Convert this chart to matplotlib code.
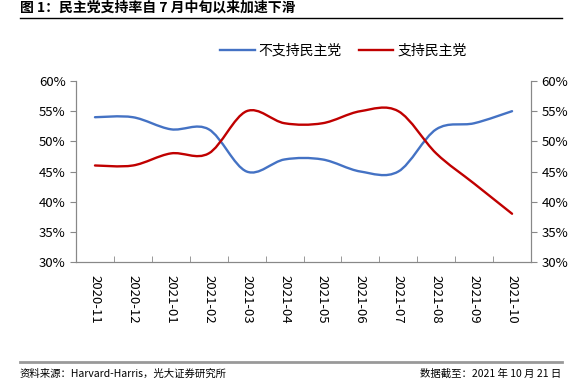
import numpy as np
import matplotlib.pyplot as plt
from matplotlib.path import Path
from matplotlib.patches import PathPatch
from matplotlib.lines import Line2D
from matplotlib.ticker import PercentFormatter

plt.rcParams['font.family'] = ['Noto Sans CJK SC', 'DejaVu Sans']

months = ['2020-11', '2020-12', '2021-01', '2021-02', '2021-03', '2021-04',
          '2021-05', '2021-06', '2021-07', '2021-08', '2021-09', '2021-10']
oppose = [54, 54, 52, 52, 45, 47, 47, 45, 45, 52, 53, 55]
support = [46, 46, 48, 48, 55, 53, 53, 55, 55, 48, 43, 38]
names = ['不支持民主党', '支持民主党']
colors = ['#4472C4', '#C00000']


def smooth_path(x, y):
    # excel-like smoothed line: bezier with catmull-rom control points
    x = np.asarray(x, float)
    y = np.asarray(y, float)
    verts = [(x[0], y[0])]
    codes = [Path.MOVETO]
    n = len(x)
    for i in range(n - 1):
        i0 = max(i - 1, 0)
        i3 = min(i + 2, n - 1)
        c1 = (x[i] + (x[i + 1] - x[i0]) / 6, y[i] + (y[i + 1] - y[i0]) / 6)
        c2 = (x[i + 1] - (x[i3] - x[i]) / 6, y[i + 1] - (y[i3] - y[i]) / 6)
        verts += [c1, c2, (x[i + 1], y[i + 1])]
        codes += [Path.CURVE4] * 3
    return Path(verts, codes)


fig = plt.figure(figsize=(5.82, 3.88), dpi=100)
ax = fig.add_axes([0.1306, 0.3247, 0.7818, 0.4665])
xs = np.arange(len(months))
for vals, c in zip([oppose, support], colors):
    ax.add_patch(PathPatch(smooth_path(xs, vals), facecolor='none',
                           edgecolor=c, lw=1.7, capstyle='round'))

ax.set_xlim(-0.5, len(months) - 0.5)
ax.set_ylim(30, 60)
ax.set_yticks(range(30, 61, 5))
ax.yaxis.set_major_formatter(PercentFormatter(decimals=0))
ax.set_xticks(xs)
ax.set_xticklabels(months, rotation=270, fontsize=9.5)
ax.set_xticks(np.arange(-0.5, len(months), 1), minor=True)
ax.tick_params(axis='x', which='major', length=0, pad=9)
ax.tick_params(axis='x', which='minor', length=4, direction='in', color='#888888')
ax.tick_params(axis='y', length=4, color='#888888', labelsize=9.5)
ax.spines['top'].set_visible(False)
for s in ['left', 'bottom', 'right']:
    ax.spines[s].set_color('#888888')

ax2 = ax.twinx()
ax2.set_ylim(30, 60)
ax2.set_yticks(range(30, 61, 5))
ax2.yaxis.set_major_formatter(PercentFormatter(decimals=0))
ax2.tick_params(axis='y', length=4, color='#888888', labelsize=9.5)
ax2.spines['top'].set_visible(False)
for s in ['left', 'bottom', 'right']:
    ax2.spines[s].set_color('#888888')

handles = [Line2D([], [], color=c, lw=1.7) for c in colors]
fig.legend(handles, names, loc='center', bbox_to_anchor=(0.59, 0.87), ncol=2,
           frameon=False, fontsize=10, handlelength=2.5, handletextpad=0.3,
           columnspacing=1.2)

fig.text(0.034, 0.999, '图 1：民主党支持率自 7 月中旬以来加速下滑', fontsize=10,
         fontweight='bold', va='top')
fig.add_artist(Line2D([0.034, 0.965], [0.954, 0.954], color='black', lw=1))
fig.add_artist(Line2D([0.034, 0.965], [0.066, 0.066], color='#999999', lw=2))
fig.text(0.034, 0.038, '资料来源：Harvard-Harris，光大证券研究所', fontsize=7.5, va='center')
fig.text(0.965, 0.038, '数据截至：2021 年 10 月 21 日', fontsize=7.5, va='center', ha='right')

fig.savefig('out.png', dpi=100)
